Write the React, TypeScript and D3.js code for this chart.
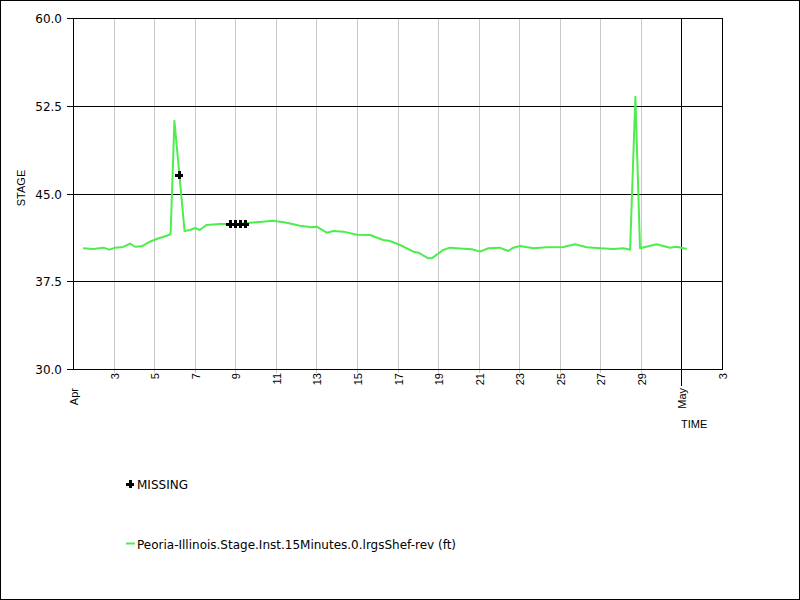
import React from "react";
import * as d3 from "d3";

const times: string[] = [
  "2019-04-01T12:00", "2019-04-02T00:00", "2019-04-02T12:00", "2019-04-02T19:00",
  "2019-04-03T02:00", "2019-04-03T11:30", "2019-04-03T19:30", "2019-04-04T01:30",
  "2019-04-04T09:20", "2019-04-04T19:00", "2019-04-05T03:00", "2019-04-05T15:00",
  "2019-04-05T19:30", "2019-04-06T00:00", "2019-04-06T12:00", "2019-04-06T18:30",
  "2019-04-07T00:30", "2019-04-07T06:00", "2019-04-07T14:00", "2019-04-08T06:00",
  "2019-04-09T02:00", "2019-04-09T17:30", "2019-04-10T20:40", "2019-04-11T13:00",
  "2019-04-12T04:30", "2019-04-12T18:30", "2019-04-13T00:30", "2019-04-13T12:15",
  "2019-04-13T20:00", "2019-04-14T08:00", "2019-04-15T00:00", "2019-04-15T15:30",
  "2019-04-16T07:00", "2019-04-16T15:00", "2019-04-17T03:00", "2019-04-17T19:00",
  "2019-04-18T00:45", "2019-04-18T12:30", "2019-04-18T16:30", "2019-04-19T06:00",
  "2019-04-19T14:00", "2019-04-20T06:00", "2019-04-20T16:00", "2019-04-21T01:40",
  "2019-04-21T11:30", "2019-04-22T01:00", "2019-04-22T11:00", "2019-04-22T17:00",
  "2019-04-23T01:00", "2019-04-23T16:45", "2019-04-24T08:40", "2019-04-25T04:20",
  "2019-04-25T18:00", "2019-04-26T08:00", "2019-04-27T00:00", "2019-04-27T15:30",
  "2019-04-28T03:20", "2019-04-28T11:15", "2019-04-28T17:30", "2019-04-28T23:00",
  "2019-04-29T18:40", "2019-04-30T10:30", "2019-04-30T18:30", "2019-05-01T06:15",
];
const stage: number[] = [
  40.32, 40.26, 40.37, 40.2,
  40.37, 40.43, 40.71, 40.45,
  40.49, 40.88, 41.11, 41.39,
  41.54, 51.22, 41.8, 41.88,
  42.05, 41.88, 42.31, 42.39,
  42.39, 42.5, 42.67, 42.5,
  42.25, 42.11, 42.16, 41.65,
  41.79, 41.74, 41.48, 41.45,
  41.03, 40.94, 40.6, 40.03,
  39.94, 39.46, 39.46, 40.17,
  40.37, 40.28, 40.23, 40.03,
  40.32, 40.37, 40.09, 40.37,
  40.51, 40.32, 40.4, 40.43,
  40.66, 40.4, 40.32, 40.26,
  40.32, 40.2, 53.27, 40.32,
  40.66, 40.37, 40.45, 40.26,
];

const missingTimes: string[] = [
  "2019-04-06T06:00", "2019-04-08T18:00", "2019-04-09T00:00", "2019-04-09T06:00", "2019-04-09T12:00",
];
const missingValues: number[] = [46.56, 42.4, 42.4, 42.4, 42.4];

const yTicks: number[] = [30, 37.5, 45, 52.5, 60];
const dayTicks: number[] = [3, 5, 7, 9, 11, 13, 15, 17, 19, 21, 23, 25, 27, 29];

const seriesName = "Peoria-Illinois.Stage.Inst.15Minutes.0.lrgsShef-rev (ft)";

const parse = (s: string) => {
  const [d, t] = s.split("T");
  const [Y, M, D] = d.split("-").map(Number);
  const [h, m] = t.split(":").map(Number);
  return new Date(Date.UTC(Y, M - 1, D, h, m));
};

const L = 73, R = 722, T = 18, B = 369;
const GREEN = "#4ded4d";

export default function App() {
  const x = d3.scaleUtc().domain([new Date(Date.UTC(2019, 3, 1)), new Date(Date.UTC(2019, 4, 3))]).range([L, R]);
  const y = d3.scaleLinear().domain([30, 60]).range([B, T]);
  const data = times.map((t, i) => ({ t: parse(t), v: stage[i] }));
  const line = d3.line<{ t: Date; v: number }>().x((d) => x(d.t)).y((d) => y(d.v));
  const miss = missingTimes.map((t, i) => ({ t: parse(t), v: missingValues[i] }));
  const aprX = Math.round(x(new Date(Date.UTC(2019, 3, 1))));
  const mayX = Math.round(x(new Date(Date.UTC(2019, 4, 1))));
  const may3X = Math.round(x(new Date(Date.UTC(2019, 4, 3))));
  const tickFont = "'Liberation Sans', Arial, sans-serif";
  const yFont = "'DejaVu Sans', Verdana, sans-serif";
  const plus = (cx: number, cy: number, key: string | number) => (
    <g key={key} stroke="#000" strokeWidth={3} shapeRendering="crispEdges">
      <line x1={cx - 4} x2={cx + 4} y1={cy + 0.5} y2={cy + 0.5} />
      <line x1={cx + 0.5} x2={cx + 0.5} y1={cy - 4} y2={cy + 4} />
    </g>
  );
  return (
    <svg width={800} height={600} style={{ position: "absolute", left: 0, top: 0, background: "#fff" }}>
      <rect x={0.5} y={0.5} width={799} height={599} fill="#fff" stroke="#000" />
      <g shapeRendering="crispEdges">
        {dayTicks.map((d) => {
          const xx = Math.round(x(new Date(Date.UTC(2019, 3, d)))) + 0.5;
          return <line key={d} x1={xx} x2={xx} y1={T} y2={B + 4} stroke="#c8c8c8" />;
        })}
        {yTicks.slice(1, -1).map((v) => {
          const yy = Math.round(y(v)) + 0.5;
          return <line key={v} x1={L} x2={R} y1={yy} y2={yy} stroke="#000" />;
        })}
        <line x1={mayX + 0.5} x2={mayX + 0.5} y1={T} y2={B + 17} stroke="#000" />
        <rect x={L + 0.5} y={T + 0.5} width={R - L} height={B - T} fill="none" stroke="#000" />
        {yTicks.map((v) => {
          const yy = Math.round(y(v)) + 0.5;
          return <line key={v} x1={L - 6} x2={L} y1={yy} y2={yy} stroke="#000" />;
        })}
      </g>
      {yTicks.map((v) => (
        <text key={v} x={62} y={Math.round(y(v)) + 5} textAnchor="end" fontFamily={yFont} fontSize={12} fill="#000">
          {v.toFixed(1)}
        </text>
      ))}
      {dayTicks.map((d) => {
        const xx = Math.round(x(new Date(Date.UTC(2019, 3, d))));
        return (
          <text key={d} transform={`translate(${xx + 4.5},373) rotate(-90)`} textAnchor="end" fontFamily={tickFont} fontSize={11} fill="#000">
            {d}
          </text>
        );
      })}
      <text transform={`translate(${may3X + 4.5},373) rotate(-90)`} textAnchor="end" fontFamily={tickFont} fontSize={11} fill="#000">3</text>
      <text transform={`translate(${aprX + 4.5},388) rotate(-90)`} textAnchor="end" fontFamily={tickFont} fontSize={11} fill="#000">Apr</text>
      <text transform={`translate(${mayX + 4.5},388) rotate(-90)`} textAnchor="end" fontFamily={tickFont} fontSize={11} fill="#000">May</text>
      <text x={mayX} y={428} fontFamily={tickFont} fontSize={11} fill="#000">TIME</text>
      <text transform="translate(25,188) rotate(-90)" textAnchor="middle" fontFamily={tickFont} fontSize={11} fill="#000">STAGE</text>
      <path d={line(data) ?? ""} fill="none" stroke={GREEN} strokeWidth={2} strokeLinejoin="round" />
      {miss.map((m, i) => plus(Math.round(x(m.t)), Math.round(y(m.v)), i))}
      {plus(130, 484, "leg")}
      <text x={137} y={488.5} fontFamily={yFont} fontSize={12} fill="#000">MISSING</text>
      <line x1={126} x2={135} y1={543.5} y2={543.5} stroke={GREEN} strokeWidth={2} />
      <text x={137} y={548.5} fontFamily={yFont} fontSize={12} fill="#000">{seriesName}</text>
    </svg>
  );
}
